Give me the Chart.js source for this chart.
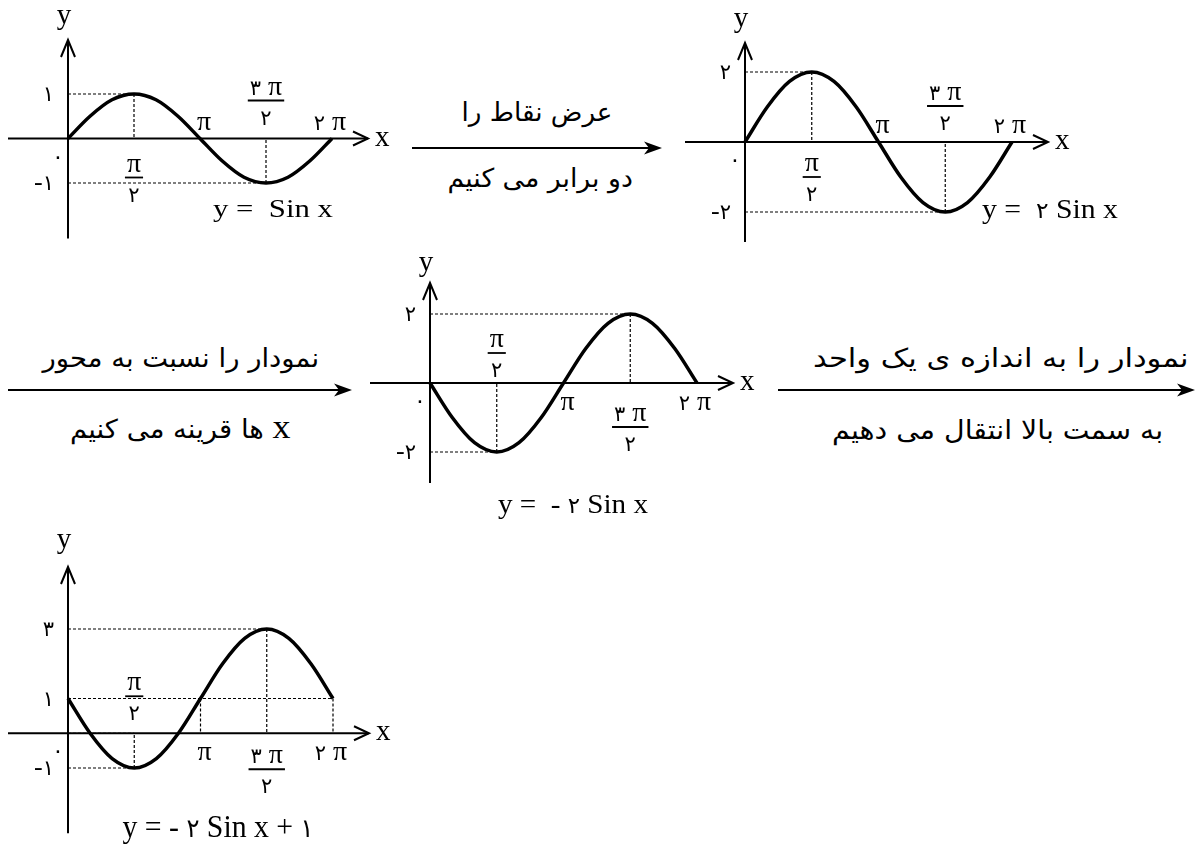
<!DOCTYPE html>
<html><head><meta charset="utf-8">
<script src="https://cdn.jsdelivr.net/npm/chart.js@4.4.1/dist/chart.umd.min.js"></script>
<style>
html,body{margin:0;padding:0;background:#fff;width:1196px;height:844px;overflow:hidden;}
body{position:relative;}
canvas{position:absolute;}
.cap{position:absolute;direction:rtl;white-space:nowrap;font-family:"DejaVu Sans";font-size:26px;line-height:28px;color:#000;}
.cap .lat{font-family:"Liberation Serif";font-size:34px;}
#arrows{position:absolute;left:0;top:0;}
</style></head><body>
<svg id="arrows" width="1196" height="844"></svg>
<script>
// ---------------- data ----------------
const xDeg = [0, 30, 60, 90, 120, 150, 180, 210, 240, 270, 300, 330, 360];
const ySin = [0, 0.5, 0.87, 1, 0.87, 0.5, 0, -0.5, -0.87, -1, -0.87, -0.5, 0];
const y2Sin = [0, 1, 1.73, 2, 1.73, 1, 0, -1, -1.73, -2, -1.73, -1, 0];
const yNeg2Sin = [0, -1, -1.73, -2, -1.73, -1, 0, 1, 1.73, 2, 1.73, 1, 0];
const yNeg2SinPlus1 = [1, 0, -0.73, -1, -0.73, 0, 1, 2, 2.73, 3, 2.73, 2, 1];

const xTickValues = [90, 180, 270, 360];
const xTickLabels = [['π', '۲'], 'π', ['۳ π', '۲'], '۲ π'];
const xTickSide1 = ['below', 'above', 'above', 'above'];
const xTickSide2 = ['below', 'above', 'above', 'above'];
const xTickSide3 = ['above', 'below', 'below', 'below'];
const xTickSide4 = ['above', 'below', 'below', 'below'];

const yTicks1 = [1, -1];      const yTickLabels1 = ['۱', '-۱'];
const yTicks2 = [2, -2];      const yTickLabels2 = ['۲', '-۲'];
const yTicks3 = [2, -2];      const yTickLabels3 = ['۲', '-۲'];
const yTicks4 = [3, 1, -1];   const yTickLabels4 = ['۳', '۱', '-۱'];
const originLabel = '۰';

const yRange1 = [-1, 1];
const yRange2 = [-2, 2];
const yRange3 = [-2, 2];
const yRange4 = [-1, 3];

// dashed guide segments, data units [x1, y1, x2, y2]
const guides1 = [[0,1,90,1],[90,1,90,0],[0,-1,270,-1],[270,-1,270,0],[0,-1,0,1]];
const guides2 = [[0,2,90,2],[90,2,90,0],[0,-2,270,-2],[270,-2,270,0],[0,-2,0,2]];
const guides3 = [[0,2,270,2],[270,2,270,0],[0,-2,90,-2],[90,-2,90,0],[0,-2,0,2]];
const guides4 = [[0,3,270,3],[270,3,270,0],[0,1,360,1],[180,1,180,0],[360,1,360,0],[0,-1,90,-1],[90,-1,90,0],[0,0,90,0],[0,-1,0,3]];

const captions = ['y =  Sin x', 'y =  ۲ Sin x', 'y =  - ۲ Sin x', 'y = - ۲ Sin x + ۱'];
const stepTop = ['عرض نقاط را', 'نمودار را نسبت به محور', 'نمودار را به اندازه ی یک واحد'];
const stepBottom = ['دو برابر می کنیم', 'x ها قرینه می کنیم', 'به سمت بالا انتقال می دهیم'];

// ---------------- layout (positions / sizes only) ----------------
const layouts = [
  {left:0,   top:0,   w:400, h:245, pad:{left:68,right:68,top:94,bottom:62}, yTip:40, yLabDy:-16, barAbove:-38, barBelow:39, capX:273, capBase:217, capW:120, capPx:26},
  {left:680, top:0,   w:516, h:245, pad:{left:65,right:184,top:72,bottom:33}, yTip:43, yLabDy:-16, barAbove:-36, barBelow:35, capX:370, capBase:218, capW:136, capPx:28},
  {left:360, top:250, w:420, h:275, pad:{left:70,right:83,top:64,bottom:73}, yTip:33, yLabDy:-12, barAbove:-30, barBelow:44, capX:213, capBase:263, capW:150, capPx:28},
  {left:0,   top:530, w:420, h:314, pad:{left:68,right:87,top:99,bottom:76}, yTip:37, yLabDy:-19, barAbove:-37, barBelow:36, capX:218, capBase:307, capW:191, capPx:32}
];
const stepLayout = [
  {ax1:412, ax2:662, ay:148, topX:537, topY:112, topW:151, botX:540, botY:178, botW:185},
  {ax1:8,   ax2:352, ay:390, topX:181, topY:358, topW:277, botX:180, botY:428, botW:220},
  {ax1:778, ax2:1195, ay:390, topX:1000, topY:358, topW:375, botX:997, botY:430, botW:331}
];

// ---------------- helpers ----------------
const AR = /[\u0600-\u06FF]/;
function splitRuns(text){
  const out = [];
  for (const ch of text){
    const ar = AR.test(ch);
    if (out.length && out[out.length-1].ar === ar) out[out.length-1].t += ch;
    else out.push({t:ch, ar});
  }
  return out;
}
function drawMixed(ctx, text, x, base, align, serifPx, arPx, targetW){
  const parts = splitRuns(text);
  let w = 0;
  parts.forEach(p => {
    ctx.font = p.ar ? arPx + 'px "DejaVu Sans"' : serifPx + 'px "Liberation Serif"';
    p.w = ctx.measureText(p.t).width; w += p.w;
  });
  const sx = targetW ? targetW / w : 1;
  const tw = w * sx;
  const start = align === 'center' ? x - tw/2 : (align === 'right' ? x - tw : x);
  ctx.save();
  ctx.translate(start, base); ctx.scale(sx, 1);
  ctx.textAlign = 'left'; ctx.textBaseline = 'alphabetic'; ctx.fillStyle = '#000';
  let cx = 0;
  parts.forEach(p => {
    ctx.font = p.ar ? arPx + 'px "DejaVu Sans"' : serifPx + 'px "Liberation Serif"';
    ctx.fillText(p.t, cx, 0); cx += p.w;
  });
  ctx.restore();
  return tw;
}
function measureMixed(ctx, text, serifPx, arPx){
  let w = 0;
  splitRuns(text).forEach(p => {
    ctx.font = p.ar ? arPx + 'px "DejaVu Sans"' : serifPx + 'px "Liberation Serif"';
    w += ctx.measureText(p.t).width;
  });
  return w;
}

const DIG = 21; // Persian digit font size for tick labels

function makePlugin(g, spec){
  return {
    id: 'mathAxes',
    beforeDatasetsDraw(chart){
      const {ctx, scales:{x, y}} = chart;
      const ox = x.getPixelForValue(0), oy = y.getPixelForValue(0);
      const xEnd = x.getPixelForValue(360) + 36;
      ctx.save();
      ctx.strokeStyle = '#000'; ctx.lineWidth = 2;
      ctx.beginPath();
      ctx.moveTo(ox - 60, oy); ctx.lineTo(xEnd, oy);
      ctx.moveTo(ox, oy + 100); ctx.lineTo(ox, g.yTip);
      ctx.stroke();
      ctx.beginPath();
      ctx.moveTo(xEnd - 15, oy - 7); ctx.lineTo(xEnd, oy); ctx.lineTo(xEnd - 15, oy + 7);
      ctx.moveTo(ox - 7, g.yTip + 17); ctx.lineTo(ox, g.yTip); ctx.lineTo(ox + 7, g.yTip + 17);
      ctx.stroke();
      ctx.restore();
    },
    afterDraw(chart){
      const {ctx, scales:{x, y}} = chart;
      const ox = x.getPixelForValue(0), oy = y.getPixelForValue(0);
      const xEnd = x.getPixelForValue(360) + 36;
      drawMixed(ctx, 'y', ox - 4, g.yTip + g.yLabDy, 'center', 29, DIG);
      drawMixed(ctx, 'x', xEnd + 7, oy + 7, 'left', 29, DIG);
      drawMixed(ctx, originLabel, ox - 10, oy + 25, 'center', 26, 22);
      spec.yTicks.forEach((v, i) => {
        drawMixed(ctx, spec.yTickLabels[i], ox - 14, y.getPixelForValue(v) + 7, 'right', 26, DIG);
      });
      xTickValues.forEach((v, i) => {
        const lab = xTickLabels[i];
        const side = spec.xSide[i];
        let px = x.getPixelForValue(v);
        if (v === 180) px += 4;
        if (v === 360) px -= 2;
        if (Array.isArray(lab)){
          const bar = oy + (side === 'above' ? g.barAbove : g.barBelow);
          const nw = measureMixed(ctx, lab[0], 28, DIG);
          drawMixed(ctx, lab[0], px, bar - 6, 'center', 28, DIG);
          ctx.save(); ctx.strokeStyle = '#000'; ctx.lineWidth = 1.8;
          ctx.beginPath(); ctx.moveTo(px - nw/2 - 2, bar); ctx.lineTo(px + nw/2 + 2, bar); ctx.stroke();
          ctx.restore();
          drawMixed(ctx, lab[1], px, bar + 24, 'center', 28, DIG);
        } else {
          const base = side === 'above' ? oy - 9 : oy + 27;
          drawMixed(ctx, lab, px, base, 'center', 28, DIG);
        }
      });
      drawMixed(ctx, spec.caption, g.capX, g.capBase, 'center', g.capPx, Math.round(g.capPx * 0.8), g.capW);
    }
  };
}

function makeChart(g, values, yRange, guides, spec){
  const cv = document.createElement('canvas');
  cv.width = g.w; cv.height = g.h;
  cv.style.left = g.left + 'px'; cv.style.top = g.top + 'px';
  cv.style.width = g.w + 'px'; cv.style.height = g.h + 'px';
  document.body.appendChild(cv);
  const curve = {
    data: xDeg.map((xv, i) => ({x: xv, y: values[i]})),
    borderColor: '#000', borderWidth: 3.5, pointRadius: 0,
    cubicInterpolationMode: 'monotone', fill: false, clip: false
  };
  const guideSets = guides.map(s => ({
    data: [{x: s[0], y: s[1]}, {x: s[2], y: s[3]}],
    borderColor: '#000', borderWidth: 1.2, borderDash: [3, 2], pointRadius: 0,
    tension: 0, fill: false, clip: false
  }));
  new Chart(cv, {
    type: 'line',
    data: {datasets: [curve, ...guideSets]},
    options: {
      responsive: false, animation: false, events: [], devicePixelRatio: 1,
      layout: {padding: g.pad},
      plugins: {legend: {display: false}, tooltip: {enabled: false}},
      scales: {
        x: {type: 'linear', min: 0, max: 360, display: false},
        y: {type: 'linear', min: yRange[0], max: yRange[1], display: false}
      }
    },
    plugins: [makePlugin(g, spec)]
  });
}

function drawSteps(){
  const svg = document.getElementById('arrows');
  let html = '';
  stepLayout.forEach(s => {
    html += `<line x1="${s.ax1}" y1="${s.ay}" x2="${s.ax2 - 8}" y2="${s.ay}" stroke="#000" stroke-width="1.8"/>`;
    html += `<path d="M${s.ax2},${s.ay} L${s.ax2-18},${s.ay-6.5} L${s.ax2-13},${s.ay} L${s.ax2-18},${s.ay+6.5} Z" fill="#000"/>`;
  });
  svg.innerHTML = html;
  stepLayout.forEach((s, i) => {
    [[stepTop[i], s.topX, s.topY, s.topW], [stepBottom[i], s.botX, s.botY, s.botW]].forEach(([t, cx, cy, tw]) => {
      const d = document.createElement('div');
      d.className = 'cap';
      if (t.startsWith('x ')) {
        const lat = document.createElement('span'); lat.className = 'lat'; lat.textContent = 'x';
        d.appendChild(lat); d.appendChild(document.createTextNode(t.slice(1)));
      } else d.textContent = t;
      document.body.appendChild(d);
      const w = d.offsetWidth, h = d.offsetHeight;
      const k = tw / w;
      d.style.left = (cx - w/2) + 'px';
      d.style.top = (cy - h/2) + 'px';
      d.style.transform = `scaleX(${k.toFixed(3)})`;
      d.style.transformOrigin = 'center center';
    });
  });
}

function build(){
  makeChart(layouts[0], ySin, yRange1, guides1, {yTicks: yTicks1, yTickLabels: yTickLabels1, xSide: xTickSide1, caption: captions[0]});
  makeChart(layouts[1], y2Sin, yRange2, guides2, {yTicks: yTicks2, yTickLabels: yTickLabels2, xSide: xTickSide2, caption: captions[1]});
  makeChart(layouts[2], yNeg2Sin, yRange3, guides3, {yTicks: yTicks3, yTickLabels: yTickLabels3, xSide: xTickSide3, caption: captions[2]});
  makeChart(layouts[3], yNeg2SinPlus1, yRange4, guides4, {yTicks: yTicks4, yTickLabels: yTickLabels4, xSide: xTickSide4, caption: captions[3]});
  drawSteps();
}
if (document.fonts && document.fonts.ready) document.fonts.ready.then(build); else build();
</script>
</body></html>
